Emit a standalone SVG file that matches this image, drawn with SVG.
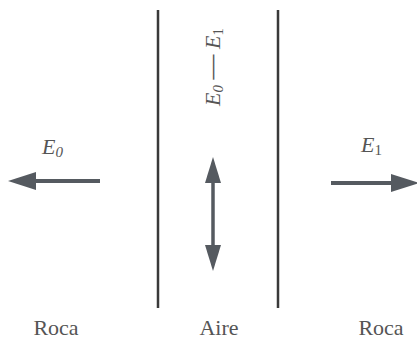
<svg xmlns="http://www.w3.org/2000/svg" width="417" height="340" viewBox="0 0 417 340">
<style>
.wall{stroke:#3a3a3a;stroke-width:2.5;fill:none}
.arr{stroke:#555a60;stroke-width:4;fill:none}
.head{fill:#555a60}
.lbl{font-family:'Liberation Serif','Times New Roman',serif;font-size:22px;fill:#555;text-anchor:middle}
.sym{font-family:'Liberation Serif','Times New Roman',serif;font-size:22px;font-style:italic;fill:#555}
</style>
<g id="walls">
<line class="wall" x1="158" y1="10" x2="158" y2="308"/>
<line class="wall" x1="278" y1="10" x2="278" y2="308"/>
</g>
<g id="connectors">
<line class="arr" x1="100" y1="181" x2="30" y2="181"/>
<polygon class="head" points="8,181 36,172 36,190"/>
<line class="arr" x1="331" y1="183" x2="395" y2="183"/>
<polygon class="head" points="419,183 391,174 391,192"/>
<line class="arr" x1="213" y1="175" x2="213" y2="252" style="stroke-width:3.5"/>
<polygon class="head" points="213,157 205,183 221,183"/>
<polygon class="head" points="213,271 205,245 221,245"/>
</g>
<g id="E0"><text class="sym" x="42" y="154">E<tspan font-size="15" dy="3">0</tspan></text></g>
<g id="E1"><text class="sym" x="361" y="152">E<tspan font-size="15" font-style="normal" dy="3">1</tspan></text></g>
<g id="diff"><text class="sym" transform="translate(220,67) rotate(-90)" text-anchor="middle">E<tspan font-size="15" dy="3">0</tspan><tspan dy="-3"> <tspan font-size="28">—</tspan> E</tspan><tspan font-size="15" font-style="normal" dy="3">1</tspan></text></g>
<g id="roca-left"><text class="lbl" x="56" y="335">Roca</text></g>
<g id="aire"><text class="lbl" x="219" y="335">Aire</text></g>
<g id="roca-right"><text class="lbl" x="381" y="335">Roca</text></g>
</svg>
